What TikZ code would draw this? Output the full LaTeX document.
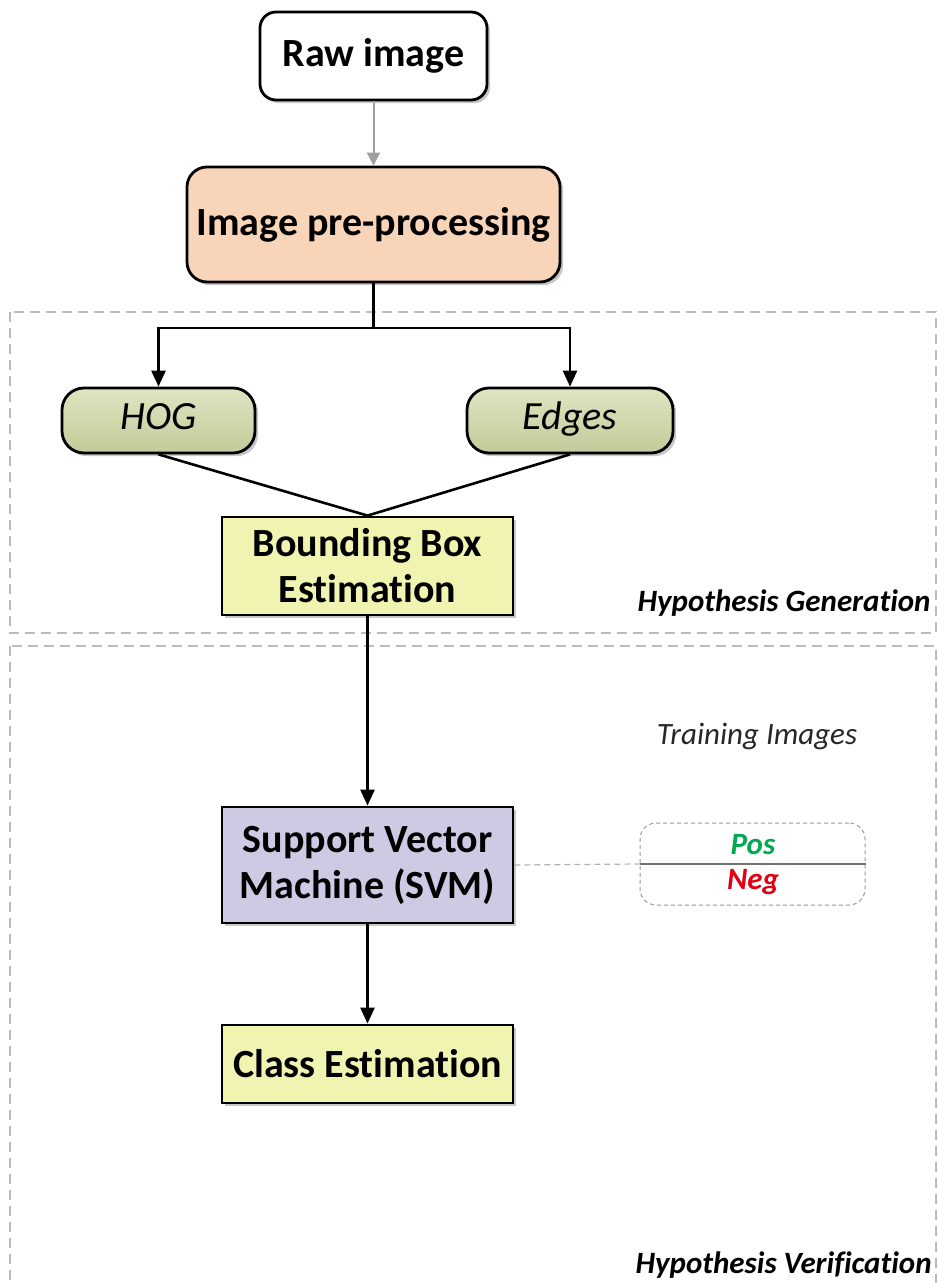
\documentclass[tikz,border=0pt]{standalone}
\usepackage{fontspec}
\setmainfont{Carlito}[Ligatures={NoCommon,NoRare,NoContextual}]
\usetikzlibrary{arrows.meta,shadows}
\definecolor{peach}{RGB}{248,213,184}
\definecolor{olivetop}{RGB}{224,228,194}
\definecolor{olivebot}{RGB}{196,202,154}
\definecolor{paleyellow}{RGB}{240,244,176}
\definecolor{lavender}{RGB}{206,202,228}
\definecolor{regiongray}{RGB}{188,188,188}
\definecolor{posgreen}{RGB}{0,170,80}
\definecolor{negred}{RGB}{225,0,20}
\begin{document}
\begin{tikzpicture}[x=0.5pt,y=-0.5pt,
  shad/.style={drop shadow={shadow xshift=1.6pt,shadow yshift=-1.6pt,opacity=0.22,fill=black}},
  box/.style={draw=black,line width=1.4pt,inner sep=0pt,align=center,
    font=\bfseries\fontsize{20}{23}\selectfont,shad},
  rbox/.style={box,rounded corners=8pt},
  feat/.style={box,rounded corners=11pt,top color=olivetop,bottom color=olivebot,
    font=\itshape\fontsize{20}{23}\selectfont,text height=13pt,text depth=4pt},
  conn/.style={line width=1.3pt,-{Triangle[length=8pt,width=7pt]}},
  plain/.style={line width=1.3pt},
  region/.style={draw=regiongray,line width=0.8pt,dash pattern=on 5pt off 3pt},
  tbox/.style={draw=gray!80,line width=0.5pt,dash pattern=on 2pt off 1.5pt,rounded corners=8pt,inner sep=0pt},
  lbl/.style={font=\bfseries\itshape\fontsize{15.5}{18}\selectfont,inner sep=0pt}
]
\clip (0,0) rectangle (937,1283);
\fill[white] (0,0) rectangle (937,1283);

% regions
\draw[region] (10,312) rectangle (936,633);
\draw[region] (10,646) rectangle (936,1310);

% nodes
\node[rbox,fill=white,minimum width=113.5pt,minimum height=44pt] (raw) at (373.5,56) {Raw image};
\node[rbox,fill=peach,rounded corners=10pt,minimum width=186.5pt,minimum height=57.5pt] (pre) at (373.5,224.5) {Image pre-processing};
\node[feat,minimum width=96.5pt,minimum height=32.5pt] (hog) at (158.5,420.5) {HOG};
\node[feat,minimum width=103pt,minimum height=32.5pt] (edges) at (570,420.5) {Edges};
\node[box,fill=paleyellow,minimum width=145.5pt,minimum height=49pt] (bbox) at (367.5,566) {Bounding Box\\Estimation};
\node[box,fill=lavender,minimum width=145.5pt,minimum height=58pt] (svm) at (367.5,865) {Support Vector\\Machine (SVM)};
\node[box,fill=paleyellow,minimum width=145.5pt,minimum height=39pt] (cls) at (367.5,1064) {Class Estimation};

\node[tbox,minimum width=112.5pt,minimum height=41pt] (tb) at (752.5,864) {};
\node[font=\itshape\fontsize{15.5}{18}\selectfont,text=black!85,inner sep=0pt] (train) at (757,736) {Training Images};
\node[lbl,text=posgreen] (pos) at (753,845) {Pos};
\node[lbl,text=negred] (neg) at (753,882) {Neg};
\node[lbl,anchor=east] (hg) at (931,603) {Hypothesis Generation};
\node[lbl,anchor=east] (hv) at (932,1265) {Hypothesis Verification};

% connectors
\coordinate (br) at (373.5,328);
\draw[line width=1pt,draw=gray!75,-{Triangle[length=6.5pt,width=6.5pt]}] (raw.south) -- (pre.north);
\draw[plain] (pre.south) -- (br);
\draw[conn] (br) -| (hog.north);
\draw[conn] (br) -| (edges.north);
\draw[plain] (hog.south) -- (bbox.north);
\draw[plain] (edges.south) -- (bbox.north);
\draw[conn] (bbox.south) -- (svm.north);
\draw[conn] (svm.south) -- (cls.north);
\draw[draw=gray!60,line width=0.6pt,dash pattern=on 3pt off 2pt] (svm.east) -- (tb.west);
\draw[draw=gray!90!black,line width=0.9pt] (tb.west) -- (tb.east);
\end{tikzpicture}
\end{document}
